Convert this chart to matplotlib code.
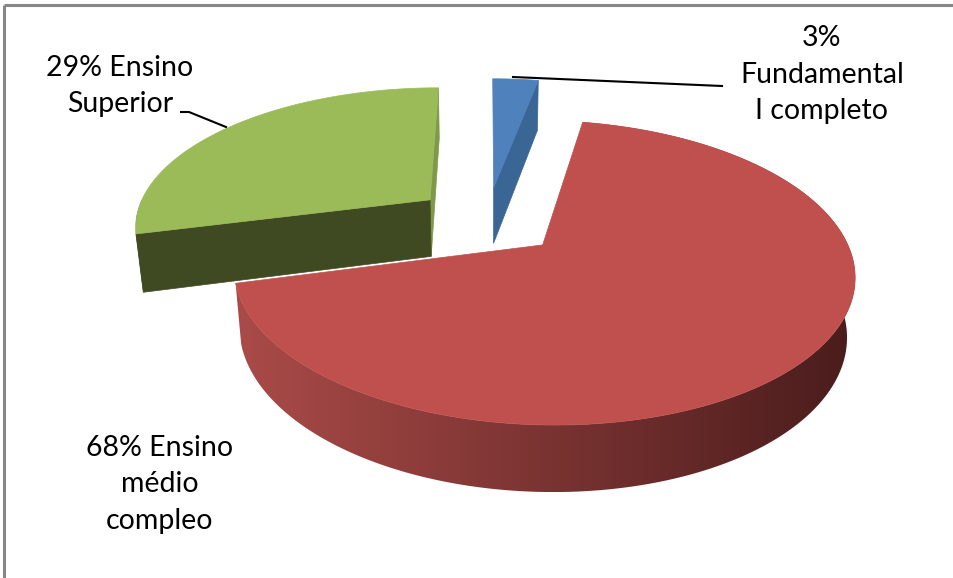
import numpy as np
import matplotlib
matplotlib.use("Agg")
import matplotlib.pyplot as plt
from matplotlib.patches import Polygon
from matplotlib.colors import LinearSegmentedColormap

# ---- data ----
categories = ["Fundamental I completo", "Ensino médio compleo", "Ensino Superior"]
values = [3, 68, 29]
label_texts = ["3%\nFundamental\nI completo", "68% Ensino\nmédio\ncompleo", "29% Ensino\nSuperior"]
top_colors = ["#4F81BD", "#C0504D", "#9BBB59"]
cut_colors = ["#3A6696", "#8E3A38", "#3F4A22"]

# ---- 3D projection parameters (styling) ----
PHI = np.radians(27.9)
DIST = 5.0
FOC = 1480.0
X0, Y0 = 487.0, 220.5
HGT = 0.225
EXPLODE = 0.25


def proj(x, y, z):
    s, c = np.sin(PHI), np.cos(PHI)
    depth = DIST + y * c - z * s
    u = FOC * x / depth
    v = FOC * (y * s + z * c) / depth
    return X0 + u, Y0 - v


fig = plt.figure(figsize=(9.54, 5.78), dpi=100)
ax = fig.add_axes([0, 0, 1, 1])
ax.set_xlim(0, 954)
ax.set_ylim(578, 0)
ax.axis("off")

total = float(sum(values))
bounds = np.concatenate([[0], np.cumsum(values)]) / total * 360.0


def slice_geom(i):
    a0, a1 = np.radians(bounds[i]), np.radians(bounds[i + 1])
    mid = 0.5 * (a0 + a1)
    ox, oy = EXPLODE * np.sin(mid), EXPLODE * np.cos(mid)
    return a0, a1, ox, oy


def arc_pts(ox, oy, a0, a1, z, n=300):
    t = np.linspace(a0, a1, n)
    return proj(ox + np.sin(t), oy + np.cos(t), z)


def draw_cut(ox, oy, ang, color, zorder):
    px = [ox, ox + np.sin(ang), ox + np.sin(ang), ox]
    py = [oy, oy + np.cos(ang), oy + np.cos(ang), oy]
    pz = [0, 0, -HGT, -HGT]
    X, Y = proj(np.array(px), np.array(py), np.array(pz))
    ax.add_patch(Polygon(np.column_stack([X, Y]), closed=True, facecolor=color,
                         edgecolor=color, lw=0.5, zorder=zorder))


def draw_top(ox, oy, a0, a1, color, zorder):
    X, Y = arc_pts(ox, oy, a0, a1, 0.0)
    cx, cy = proj(ox, oy, 0.0)
    pts = np.column_stack([np.r_[cx, X], np.r_[cy, Y]])
    ax.add_patch(Polygon(pts, closed=True, facecolor=color, edgecolor=color,
                         lw=0.5, zorder=zorder))


def draw_side(ox, oy, a0, a1, c_left, c_right, zorder):
    xt, yt = arc_pts(ox, oy, a0, a1, 0.0)
    xb, yb = arc_pts(ox, oy, a0, a1, -HGT)
    pts = np.column_stack([np.r_[xt, xb[::-1]], np.r_[yt, yb[::-1]]])
    clip = Polygon(pts, closed=True, facecolor="none", edgecolor="none", transform=ax.transData)
    ax.add_patch(clip)
    xmin, xmax = pts[:, 0].min(), pts[:, 0].max()
    ymin, ymax = pts[:, 1].min(), pts[:, 1].max()
    cmap = LinearSegmentedColormap.from_list("side", [c_left, c_right])
    grad = np.linspace(0, 1, 512)[None, :]
    im = ax.imshow(grad, cmap=cmap, extent=[xmin, xmax, ymax, ymin], aspect="auto",
                   interpolation="bilinear", zorder=zorder)
    im.set_clip_path(clip)
    ax.set_xlim(0, 954)
    ax.set_ylim(578, 0)


# blue slice (back)
a0, a1, ox, oy = slice_geom(0)
draw_cut(ox, oy, a1, cut_colors[0], 2)
draw_top(ox, oy, a0, a1, top_colors[0], 3)

# green slice (back-left)
a0, a1, ox, oy = slice_geom(2)
draw_side(ox, oy, a0, np.radians(270), "#3F4A22", "#3F4A22", 1)
draw_cut(ox, oy, a1, "#7E9A48", 1)
draw_cut(ox, oy, a0, cut_colors[2], 2)
draw_top(ox, oy, a0, a1, top_colors[2], 3)

# red slice (front)
a0, a1, ox, oy = slice_geom(1)
draw_side(ox, oy, a0, a1, "#AA4B48", "#4A1C1C", 5)
draw_top(ox, oy, a0, a1, top_colors[1], 6)

# labels
font = dict(family="Lato", fontsize=20.5, color="black", ha="center", va="center",
            linespacing=1.5, zorder=10)
ax.text(822, 75, label_texts[0], **font)
ax.text(160, 484, label_texts[1], **font)
ax.text(120, 86, label_texts[2], **font)

# leader lines
ax.plot([513, 722], [77, 86], color="black", lw=1.5, zorder=9)
ax.plot([181, 189, 226], [112, 112, 127], color="black", lw=1.5, zorder=9)

# chart frame (partially visible)
ax.plot([4, 954], [5, 5], color="#878787", lw=2.2, zorder=11, solid_capstyle="butt")
ax.plot([4, 4], [5, 578], color="#878787", lw=2.2, zorder=11, solid_capstyle="butt")

fig.savefig("out.png", dpi=100)
